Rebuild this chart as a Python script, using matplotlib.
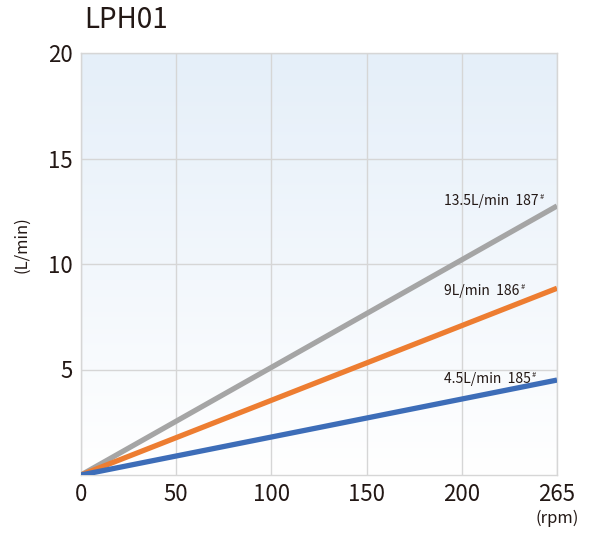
import numpy as np
import matplotlib
matplotlib.use("Agg")
import matplotlib.pyplot as plt
from matplotlib.colors import LinearSegmentedColormap

plt.rcParams['font.family'] = ['Noto Sans CJK JP', 'DejaVu Sans']

title = "LPH01"
x_ticks = [0, 50, 100, 150, 200, 265]
rpm = [0, 265]
series_names = ["13.5L/min", "9L/min", "4.5L/min"]
series_models = ["187", "186", "185"]
series_flow = [[0, 12.75], [0, 8.85], [0, 4.5]]
colors = ["#a5a5a5", "#ed7d31", "#3d6db8"]
y_ticks = [5, 10, 15, 20]

fig = plt.figure(figsize=(5.98, 5.37), dpi=100)
ax = fig.add_axes([81/598, 62/537, 476/598, 422/537])

tick_pos = np.arange(len(x_ticks))
def xmap(v):
    return np.interp(v, x_ticks, tick_pos)

# gradient background
grad = np.linspace(0, 1, 256).reshape(-1, 1)
cmap = LinearSegmentedColormap.from_list("bg", ["#e5eff9", "#ffffff"])
ax.imshow(grad, cmap=cmap, aspect='auto', extent=[0, 1, 0, 1],
          transform=ax.transAxes, zorder=0)

ax.set_xlim(0, len(x_ticks) - 1)
ax.set_ylim(0, 20)
ax.set_xticks(tick_pos)
ax.set_xticklabels([str(t) for t in x_ticks])
ax.set_yticks(y_ticks)
ax.set_yticklabels([str(t) for t in y_ticks])
ax.tick_params(length=0, labelsize=16, colors="#231815", pad=6)
ax.grid(True, color="#d6d6d6", linewidth=1.0, zorder=1)
for s in ax.spines.values():
    s.set_color("#d6d6d6")
    s.set_linewidth(1.0)

for flow, c in zip(series_flow, colors):
    ax.plot(xmap(rpm), flow, color=c, linewidth=3.8, solid_capstyle='butt', zorder=3)

label_y = [13.0, 8.72, 4.55]
for name, model, ly in zip(series_names, series_models, label_y):
    t = ax.text(3.81, ly, f"{name}  {model}", fontsize=10, color="#231815",
                va='center', ha='left', zorder=4)
    ax.annotate("#", xy=(1, 1), xycoords=t, xytext=(1, -5), textcoords='offset points',
                fontsize=5.5, color="#231815", va='bottom', ha='left')

fig.text(84/598, 1 - 20/537, title, fontsize=20, color="#231815", va='center', ha='left')
fig.text(22/598, 1 - 245/537, "(L/min)", fontsize=12, color="#231815",
         va='center', ha='center', rotation=90)
fig.text(557/598, 1 - 518/537, "(rpm)", fontsize=12, color="#231815",
         va='center', ha='center')

fig.savefig("out.png", dpi=100)
